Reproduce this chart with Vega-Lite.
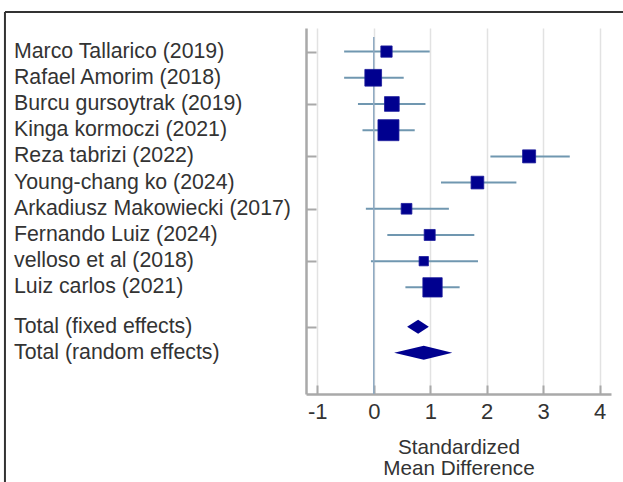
{
  "$schema": "https://vega.github.io/schema/vega-lite/v6.json",
  "autosize": {"type": "none"},
  "padding": {"left": 306, "top": 28, "right": 12, "bottom": 88},
  "width": 305,
  "height": 366,
  "background": "white",
  "view": {"stroke": null},
  "datasets": {
    "studies": [
      {"study": "Marco Tallarico (2019)", "row": 1, "smd": 0.225, "lo": -0.525, "hi": 0.99, "weight": 6.0},
      {"study": "Rafael Amorim (2018)", "row": 2, "smd": -0.01, "lo": -0.525, "hi": 0.53, "weight": 13.2},
      {"study": "Burcu gursoytrak (2019)", "row": 3, "smd": 0.32, "lo": -0.28, "hi": 0.915, "weight": 10.2},
      {"study": "Kinga kormoczi (2021)", "row": 4, "smd": 0.26, "lo": -0.2, "hi": 0.725, "weight": 20.8},
      {"study": "Reza tabrizi (2022)", "row": 5, "smd": 2.75, "lo": 2.065, "hi": 3.47, "weight": 8.0},
      {"study": "Young-chang ko (2024)", "row": 6, "smd": 1.835, "lo": 1.19, "hi": 2.525, "weight": 7.6},
      {"study": "Arkadiusz Makowiecki (2017)", "row": 7, "smd": 0.58, "lo": -0.14, "hi": 1.33, "weight": 5.4},
      {"study": "Fernando Luiz (2024)", "row": 8, "smd": 0.99, "lo": 0.24, "hi": 1.78, "weight": 5.7},
      {"study": "velloso et al (2018)", "row": 9, "smd": 0.885, "lo": -0.05, "hi": 1.845, "weight": 4.1},
      {"study": "Luiz carlos (2021)", "row": 10, "smd": 1.04, "lo": 0.56, "hi": 1.52, "weight": 17.6}
    ],
    "labels": [
      {"study": "Marco Tallarico (2019)", "row": 1},
      {"study": "Rafael Amorim (2018)", "row": 2},
      {"study": "Burcu gursoytrak (2019)", "row": 3},
      {"study": "Kinga kormoczi (2021)", "row": 4},
      {"study": "Reza tabrizi (2022)", "row": 5},
      {"study": "Young-chang ko (2024)", "row": 6},
      {"study": "Arkadiusz Makowiecki (2017)", "row": 7},
      {"study": "Fernando Luiz (2024)", "row": 8},
      {"study": "velloso et al (2018)", "row": 9},
      {"study": "Luiz carlos (2021)", "row": 10},
      {"study": "Total (fixed effects)", "row": 11.5},
      {"study": "Total (random effects)", "row": 12.5}
    ],
    "diamonds": [
      {"total": "fixed", "smd": 0.59, "top": 11.5, "bottom": 11.5},
      {"total": "fixed", "smd": 0.785, "top": 11.233, "bottom": 11.767},
      {"total": "fixed", "smd": 0.975, "top": 11.5, "bottom": 11.5},
      {"total": "random", "smd": 0.36, "top": 12.5, "bottom": 12.5},
      {"total": "random", "smd": 0.885, "top": 12.233, "bottom": 12.767},
      {"total": "random", "smd": 1.39, "top": 12.5, "bottom": 12.5}
    ],
    "zero": [{"smd": 0, "top": 0.443, "bottom": 14.07}],
    "frame": [
      {"x": -6.53, "x2": -6.53, "y": -0.511, "y2": 18},
      {"x": -6.53, "x2": 4.5, "y": -0.511, "y2": -0.511}
    ]
  },
  "layer": [
    {
      "data": {"name": "studies"},
      "mark": {"type": "rule", "color": "#7097b0", "strokeWidth": 2},
      "encoding": {
        "x": {"field": "lo", "type": "quantitative",
          "scale": {"domain": [-1.2, 4.2], "nice": false, "zero": false},
          "axis": {
            "values": [-1, -0.5, 0, 0.5, 1, 1.5, 2, 2.5, 3, 3.5, 4],
            "title": ["Standardized", "Mean Difference"],
            "labelExpr": "datum.value % 1 === 0 ? replace(format(datum.value, 'd'), '−', '-') : ''",
            "tickSize": {"condition": {"test": "datum.value % 1 === 0", "value": -9}, "value": -5},
            "gridOpacity": {"condition": {"test": "datum.value % 1 === 0", "value": 1}, "value": 0},
            "grid": true,
            "gridColor": "#e2e2e2",
            "gridWidth": 1.5,
            "domainColor": "#a9a9a9",
            "domainWidth": 2.5,
            "tickColor": "#a9a9a9",
            "tickWidth": 2,
            "labelFont": "Liberation Sans",
            "labelFontSize": 22,
            "labelColor": "#333333",
            "labelPadding": 16,
            "labelFlush": false,
            "titleFont": "Liberation Sans",
            "titleFontSize": 20.7,
            "titleFontWeight": "normal",
            "titleColor": "#333333",
            "titlePadding": 15,
            "titleLineHeight": 21.5
          }
        },
        "x2": {"field": "hi"},
        "y": {"field": "row", "type": "quantitative",
          "scale": {"domain": [0.1, 14.07], "reverse": true, "nice": false, "zero": false},
          "axis": {
            "values": [1, 2, 3, 4, 5, 6, 7, 8, 9, 10, 11.5, 12.5],
            "labels": false,
            "title": null,
            "grid": false,
            "tickSize": -10,
            "tickColor": "#a9a9a9",
            "tickWidth": 2,
            "domainColor": "#a9a9a9",
            "domainWidth": 2.5
          }
        }
      }
    },
    {
      "data": {"name": "zero"},
      "mark": {"type": "rule", "color": "#8ea9c2", "strokeWidth": 1.5},
      "encoding": {
        "x": {"field": "smd", "type": "quantitative"},
        "y": {"field": "top", "type": "quantitative"},
        "y2": {"field": "bottom"}
      }
    },
    {
      "data": {"name": "studies"},
      "mark": {"type": "point", "shape": "square", "filled": true, "opacity": 1, "color": "#00008f", "stroke": "#1a1a9a", "strokeWidth": 0.8},
      "encoding": {
        "x": {"field": "smd", "type": "quantitative"},
        "y": {"field": "row", "type": "quantitative"},
        "size": {"field": "weight", "type": "quantitative", "legend": null,
          "scale": {"type": "linear", "domain": [0, 20.8], "range": [0, 441], "zero": true}}
      }
    },
    {
      "data": {"name": "diamonds"},
      "mark": {"type": "area", "orient": "vertical", "color": "#00008f", "opacity": 1},
      "encoding": {
        "x": {"field": "smd", "type": "quantitative"},
        "y": {"field": "top", "type": "quantitative"},
        "y2": {"field": "bottom"},
        "detail": {"field": "total"}
      }
    },
    {
      "data": {"name": "labels"},
      "mark": {"type": "text", "align": "left", "baseline": "middle", "font": "Liberation Sans", "fontSize": 21.3, "color": "#333333"},
      "encoding": {
        "x": {"datum": -6.37, "type": "quantitative"},
        "y": {"field": "row", "type": "quantitative"},
        "text": {"field": "study"}
      }
    },
    {
      "data": {"name": "frame"},
      "mark": {"type": "rule", "color": "#333333", "strokeWidth": 2},
      "encoding": {
        "x": {"field": "x", "type": "quantitative"},
        "x2": {"field": "x2"},
        "y": {"field": "y", "type": "quantitative"},
        "y2": {"field": "y2"}
      }
    }
  ]
}
